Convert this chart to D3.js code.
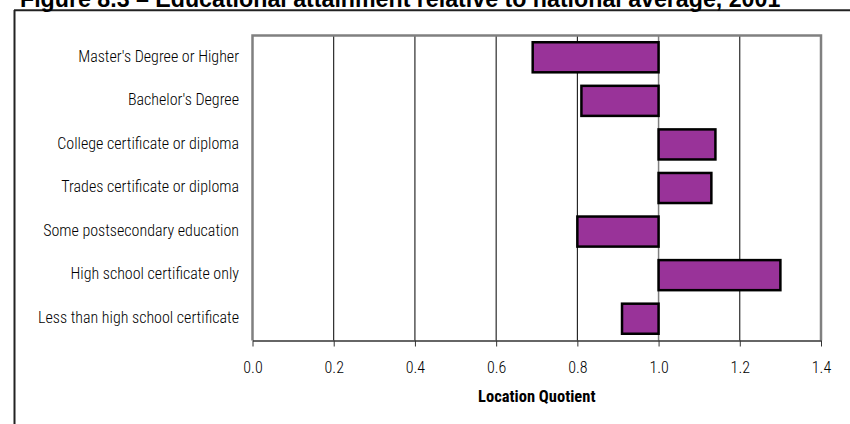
<!DOCTYPE html>
<html>
<head>
<meta charset="utf-8">
<script src="https://cdn.jsdelivr.net/npm/d3@7"></script>
<style>
  body { margin: 0; background: #fff; }
  svg { display: block; }
</style>
</head>
<body>
<div id="chart"></div>
<script>
const categories = [
    "Master's Degree or Higher",
    "Bachelor's Degree",
    "College certificate or diploma",
    "Trades certificate or diploma",
    "Some postsecondary education",
    "High school certificate only",
    "Less than high school certificate"
];
const quotients = [0.69, 0.81, 1.14, 1.13, 0.80, 1.30, 0.91];
const xTicks = [0.0, 0.2, 0.4, 0.6, 0.8, 1.0, 1.2, 1.4];
const baseline = 1.0;

const title = "Figure 8.3 \u2013 Educational attainment relative to national average, 2001";
const xTitle = "Location Quotient";

const narrow = "'Liberation Sans Narrow', 'Arial Narrow', 'Roboto Condensed', 'DejaVu Sans Condensed', sans-serif";

const width = 850, height = 424;
const margin = {top: 35.5, right: 29, bottom: 83.5, left: 252.5};

const svg = d3.select("#chart")
    .append("svg")
        .attr("width", width)
        .attr("height", height);

// frame around the figure
svg.append("line")
    .attr("x1", 14).attr("x2", width)
    .attr("y1", 10.3).attr("y2", 10.3)
    .attr("stroke", "#222")
    .attr("stroke-width", 2);
svg.append("line")
    .attr("x1", 14.5).attr("x2", 14.5)
    .attr("y1", 10).attr("y2", height)
    .attr("stroke", "#222")
    .attr("stroke-width", 2);

svg.append("text")
    .attr("x", 20)
    .attr("y", 6.5)
    .style("font-family", "'Liberation Sans', Arial, sans-serif")
    .style("font-weight", "bold")
    .style("font-size", "23.2px")
    .text(title);

const x = d3.scaleLinear()
    .domain([0, 1.4])
    .range([margin.left, width - margin.right]);

const y = d3.scaleBand()
    .domain(categories)
    .range([margin.top, height - margin.bottom])
    .paddingInner(0.31)
    .paddingOuter(0.155);

// gridlines
svg.selectAll(".grid")
    .data(xTicks.filter(d => d > 0 && d < 1.4))
    .join("line")
        .attr("class", "grid")
        .attr("x1", d => x(d))
        .attr("x2", d => x(d))
        .attr("y1", margin.top)
        .attr("y2", height - margin.bottom)
        .attr("stroke", d => d === baseline ? "#808080" : "#000")
        .attr("stroke-width", d => d === baseline ? 1.5 : 1);

// plot border
svg.append("path")
    .attr("d", `M${x(0)},${height - margin.bottom} V${margin.top} H${x(1.4)} V${height - margin.bottom}`)
    .attr("fill", "none")
    .attr("stroke", "#808080")
    .attr("stroke-width", 2.5);

svg.selectAll(".bar")
    .data(quotients)
    .join("rect")
        .attr("class", "bar")
        .attr("x", d => Math.min(x(baseline), x(d)))
        .attr("y", (d, i) => y(categories[i]))
        .attr("width", d => Math.abs(x(d) - x(baseline)))
        .attr("height", y.bandwidth())
        .attr("fill", "#993399")
        .attr("stroke", "#000")
        .attr("stroke-width", 2.5);

const xAxis = svg.append("g")
    .attr("transform", `translate(0,${height - margin.bottom})`)
    .call(d3.axisBottom(x)
        .tickValues(xTicks)
        .tickFormat(d3.format(".1f"))
        .tickSize(6)
        .tickSizeOuter(0)
        .tickPadding(15));

xAxis.select(".domain")
    .attr("stroke", "#333")
    .attr("stroke-width", 1.5);
xAxis.selectAll(".tick line").attr("stroke", "#333");
xAxis.selectAll(".tick text")
    .style("font-family", narrow)
    .style("font-size", "16px")
    .style("font-weight", 300)
    .attr("fill", "#000");

svg.selectAll(".cat-label")
    .data(categories)
    .join("text")
        .attr("class", "cat-label")
        .attr("x", 239)
        .attr("y", d => y(d) + y.bandwidth() / 2)
        .attr("text-anchor", "end")
        .attr("dominant-baseline", "middle")
        .style("font-family", narrow)
        .style("font-size", "16px")
        .style("font-weight", 300)
        .text(d => d);

svg.append("text")
    .attr("x", (x(0) + x(1.4)) / 2)
    .attr("y", 398)
    .attr("text-anchor", "middle")
    .attr("dominant-baseline", "middle")
    .style("font-family", narrow)
    .style("font-weight", "bold")
    .style("font-size", "16.5px")
    .text(xTitle);
</script>
</body>
</html>
